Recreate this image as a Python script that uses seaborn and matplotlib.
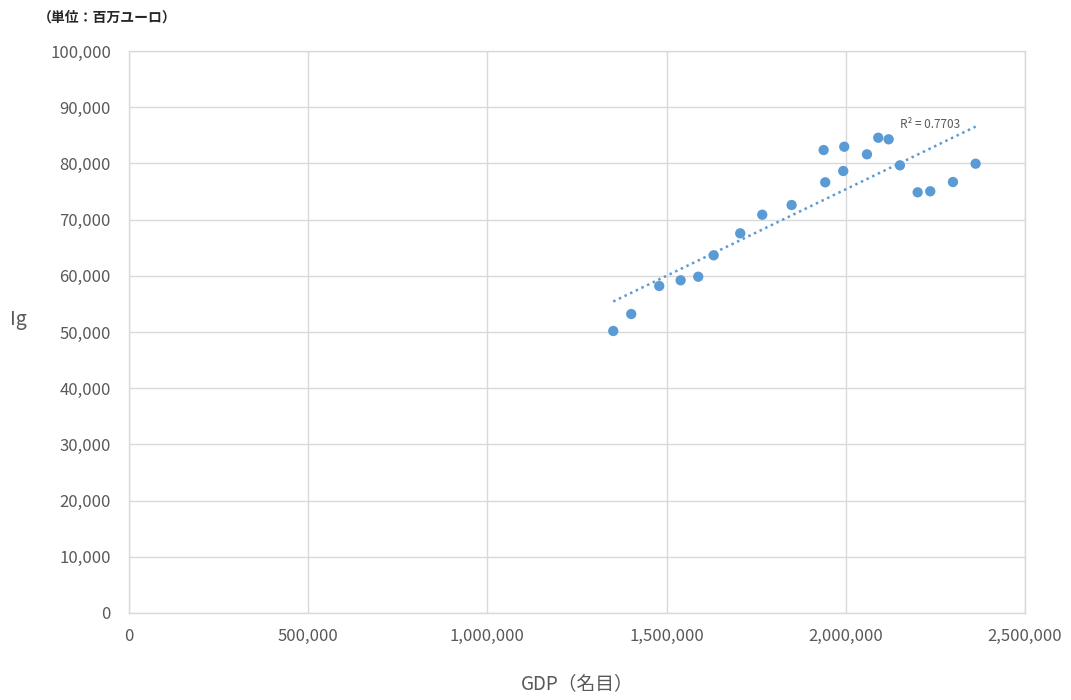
import numpy as np
import pandas as pd
import matplotlib
matplotlib.use("Agg")
import matplotlib.pyplot as plt
import seaborn as sns
from matplotlib.ticker import FuncFormatter, MultipleLocator

# Nominal GDP vs Ig (million EUR)
gdp = [1351300, 1401500, 1479600, 1539300, 1588400, 1631400, 1705600, 1767000,
       1849000, 1938300, 1942800, 1995800, 1993000, 2059200, 2090700, 2119700,
       2151200, 2200600, 2235800, 2299100, 2362400]
ig = [50180, 53200, 58190, 59200, 59840, 63650, 67560, 70870,
      72600, 82380, 76640, 82970, 78650, 81620, 84570, 84290,
      79660, 74860, 75040, 76690, 79950]

df = pd.DataFrame({"GDP": gdp, "Ig": ig})

sns.set_theme(style="white")
plt.rcParams["font.family"] = ["Noto Sans CJK JP", "DejaVu Sans"]

blue = "#5b9bd5"
grid = "#d9d9d9"
txt = "#595959"

fig = plt.figure(figsize=(10.71, 7.0), dpi=100)
ax = fig.add_axes([0.1204, 0.1243, 0.8366, 0.8028])

sns.regplot(data=df, x="GDP", y="Ig", ax=ax, ci=None, truncate=True,
            scatter_kws=dict(s=55, color=blue, edgecolor="none", alpha=1, zorder=3),
            line_kws=dict(color=blue, linestyle=(0, (1, 1.5)), linewidth=1.8, zorder=2))

slope, intercept = np.polyfit(df["GDP"], df["Ig"], 1)
pred = slope * df["GDP"] + intercept
r2 = 1 - ((df["Ig"] - pred) ** 2).sum() / ((df["Ig"] - df["Ig"].mean()) ** 2).sum()
ax.text(2320000, 85700, f"R² = {r2:.4f}", fontsize=8.5, color=txt, ha="right", va="bottom")

ax.set_xlim(0, 2500000)
ax.set_ylim(0, 100000)
ax.xaxis.set_major_locator(MultipleLocator(500000))
ax.yaxis.set_major_locator(MultipleLocator(10000))
fmt = FuncFormatter(lambda v, p: f"{int(v):,}")
ax.xaxis.set_major_formatter(fmt)
ax.yaxis.set_major_formatter(fmt)
ax.grid(True, color=grid, linewidth=1)
ax.set_axisbelow(True)
for s in ax.spines.values():
    s.set_color(grid)
    s.set_linewidth(1)
ax.tick_params(axis="both", length=0, labelsize=12, labelcolor=txt)
ax.tick_params(axis="x", pad=11)
ax.tick_params(axis="y", pad=13)

ax.set_xlabel("GDP（名目）", fontsize=13.5, color=txt, labelpad=20)
ax.set_ylabel("")
fig.text(18 / 1071, 1 - 320 / 700, "Ig", fontsize=14, color=txt, ha="center", va="center")
fig.text(38 / 1071, 1 - 18 / 700, "（単位：百万ユーロ）", fontsize=10, color="#262626",
         fontweight="bold", ha="left", va="center")

fig.savefig("out.png", dpi=100)
